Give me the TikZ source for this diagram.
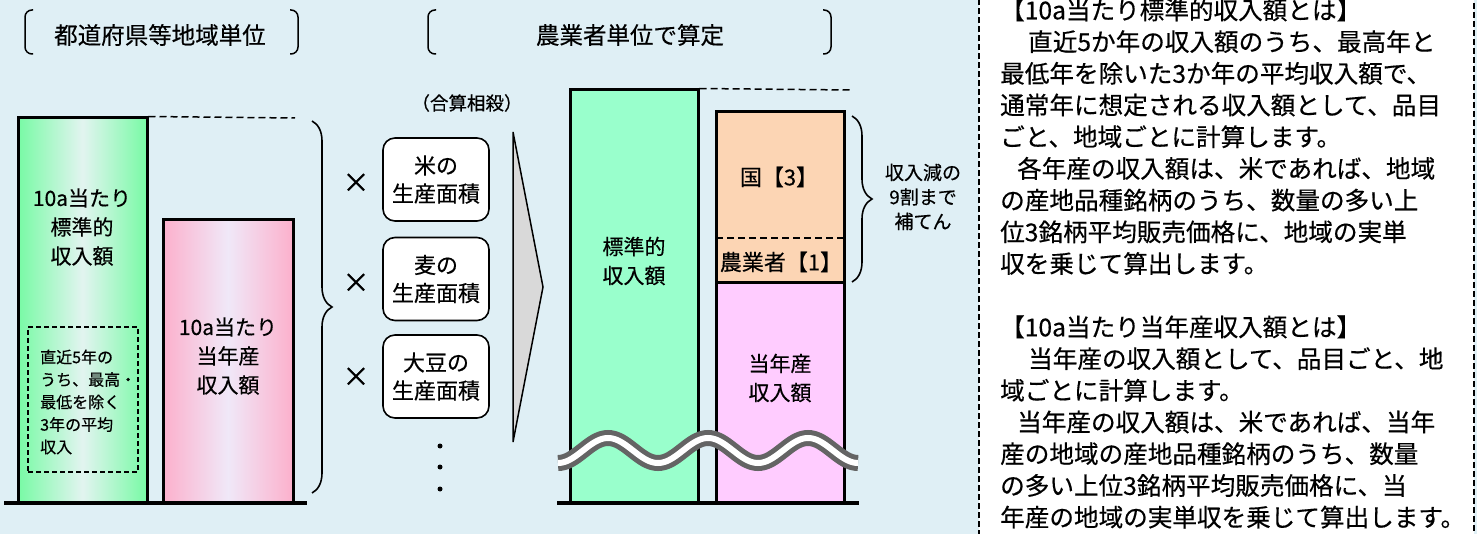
\documentclass[tikz,border=0pt]{standalone}
\usepackage{fontspec}
\setmainfont{Noto Sans CJK JP}[FakeBold=0.4]
\usetikzlibrary{decorations.pathreplacing}
\definecolor{bgblue}{RGB}{223,239,245}
\definecolor{barmint}{RGB}{153,255,204}
\definecolor{barpink}{RGB}{255,204,255}
\definecolor{barorange}{RGB}{252,213,180}
\definecolor{greenedge}{RGB}{120,250,165}
\definecolor{greenmid}{RGB}{226,244,240}
\definecolor{pinkedge}{RGB}{252,176,204}
\definecolor{pinkmid}{RGB}{240,232,248}
\definecolor{arrowgray}{RGB}{217,217,217}
\definecolor{wavegray}{RGB}{100,100,100}
\tikzset{
  bar/.style={draw=black, line width=3pt, inner sep=0pt},
  areabox/.style={draw=black, line width=1.6pt, rounded corners=12pt, fill=white,
    minimum width=106pt, minimum height=83pt, align=center, inner sep=0pt,
    font=\fontsize{22}{28}\selectfont},
  lbl/.style={align=center, inner sep=0pt, font=\fontsize{21}{29}\selectfont},
  hdr/.style={inner sep=0pt, font=\fontsize{23.5}{28}\selectfont},
  note/.style={anchor=base west, inner sep=0pt, font=\fontsize{24.6}{30}\selectfont},
  guide/.style={dash pattern=on 7pt off 4pt, line width=1.5pt},
  bkt/.style={line width=1.5pt, rounded corners=7pt},
  curly/.style={decorate, decoration={brace, amplitude=20pt}, line width=1.6pt},
  mult/.style={inner sep=0pt, font=\fontsize{27}{28}\selectfont},
}
\begin{document}
\begin{tikzpicture}[x=1pt,y=-1pt]
\useasboundingbox (0,0) rectangle (1477,534);
\fill[bgblue] (0,0) rectangle (1477,534);
% headers
\node[hdr] (hdrregion) at (160,35) {都道府県等地域単位};
\draw[bkt] (33,10) -- (25,10) -- (25,54) -- (33,54);
\draw[bkt] (290,10) -- (298,10) -- (298,54) -- (290,54);
\node[hdr] (hdrfarmer) at (630,35) {農業者単位で算定};
\draw[bkt] (436,10) -- (428,10) -- (428,54) -- (436,54);
\draw[bkt] (823,10) -- (831,10) -- (831,54) -- (823,54);
\node[inner sep=0pt, font=\fontsize{18.5}{22}\selectfont] (offset) at (467,103) {（合算相殺）};
% region bars
\node[bar, minimum width=129pt, minimum height=385pt, left color=greenedge, right color=greenedge, middle color=greenmid] (stdbar) at (82.5,310.5) {};
\node[bar, minimum width=130pt, minimum height=283pt, left color=pinkedge, right color=pinkedge, middle color=pinkmid] (curbar) at (228,361.5) {};
\draw[guide] (stdbar.north east) -- (295,118);
\node[lbl] (stdtxt) at (82,227) {10a当たり\\標準的\\収入額};
\node[draw=black, dash pattern=on 5pt off 3pt, line width=1.4pt, minimum width=110pt, minimum height=145pt] (avgbox) at (83,399.5) {};
\node[anchor=west, align=left, inner sep=0pt, font=\fontsize{16}{22.5}\selectfont] (avgtxt) at (40,402) {直近5年の\\うち、最高・\\最低を除く\\3年の平均\\収入};
\node[lbl] (curtxt) at (228,356) {10a当たり\\当年産\\収入額};
\draw[line width=3.5pt] (4,503) -- (307,503);
\draw[curly] (312,121) -- (312,493);
% areas
\node[mult] (times1) at (356,183) {×};
\node[mult] (times2) at (356,283) {×};
\node[mult] (times3) at (356,377) {×};
\node[areabox] (rice) at (436,179.5) {米の\\生産面積};
\node[areabox] (wheat) at (436,279) {麦の\\生産面積};
\node[areabox] (soy) at (436,376.5) {大豆の\\生産面積};
\foreach \y in {446,467,489} \fill (440,\y) circle (2.5pt);
\draw[fill=arrowgray, line width=1.5pt] (513,132) -- (543,287) -- (513,442) -- cycle;
% farmer bars
\node[bar, minimum width=128pt, minimum height=413pt, fill=barmint] (farmbar) at (634,296.5) {};
\node[bar, minimum width=128pt, minimum height=220pt, fill=barpink] (incbar) at (780,393) {};
\node[bar, minimum width=128pt, minimum height=171pt, fill=barorange] (gapbar) at (780,197.5) {};
\draw[guide] (716,238) -- (844,238);
\draw[guide] (farmbar.north east) -- (850,90);
\node[lbl] (farmtxt) at (634,261) {標準的\\収入額};
\node[lbl, font=\fontsize{22}{29}\selectfont] (govtxt) at (779,177) {国【3】};
\node[lbl, font=\fontsize{22}{29}\selectfont] (selftxt) at (781,262) {農業者【1】};
\node[lbl] (inctxt) at (780,378) {当年産\\収入額};
\draw[curly] (852,116) -- (852,282);
\node[lbl, font=\fontsize{19}{24.5}\selectfont] (cover) at (923,197) {収入減の\\9割まで\\補てん};
% wave cut
\draw[wavegray, line width=16pt] plot[domain=558:858, samples=121, smooth] (\x,{450.5+12.5*cos(3.6*(\x-558))});
\draw[white, line width=6pt] plot[domain=558:858, samples=121, smooth] (\x,{450.5+12.5*cos(3.6*(\x-558))});
\draw[line width=3.5pt] (557,503) -- (859,503);
% notes
\draw[dash pattern=on 6pt off 3pt, line width=1.5pt, fill=white] (979,-10) rectangle (1474,544);
\foreach \t [count=\i from 0] in {
  {【10a当たり標準的収入額とは】},
  {\hspace*{28pt}直近5か年の収入額のうち、最高年と},
  {最低年を除いた3か年の平均収入額で、},
  {通常年に想定される収入額として、品目},
  {ごと、地域ごとに計算します。},
  {\hspace*{17pt}各年産の収入額は、米であれば、地域},
  {の産地品種銘柄のうち、数量の多い上},
  {位3銘柄平均販売価格に、地域の実単},
  {収を乗じて算出します。},
  {},
  {【10a当たり当年産収入額とは】},
  {\hspace*{28pt}当年産の収入額として、品目ごと、地},
  {域ごとに計算します。},
  {\hspace*{17pt}当年産の収入額は、米であれば、当年},
  {産の地域の産地品種銘柄のうち、数量},
  {の多い上位3銘柄平均販売価格に、当},
  {年産の地域の実単収を乗じて算出します。}}
  \node[note] (note\i) at (1000,19.3+31.7*\i) {\t};
\end{tikzpicture}
\end{document}
